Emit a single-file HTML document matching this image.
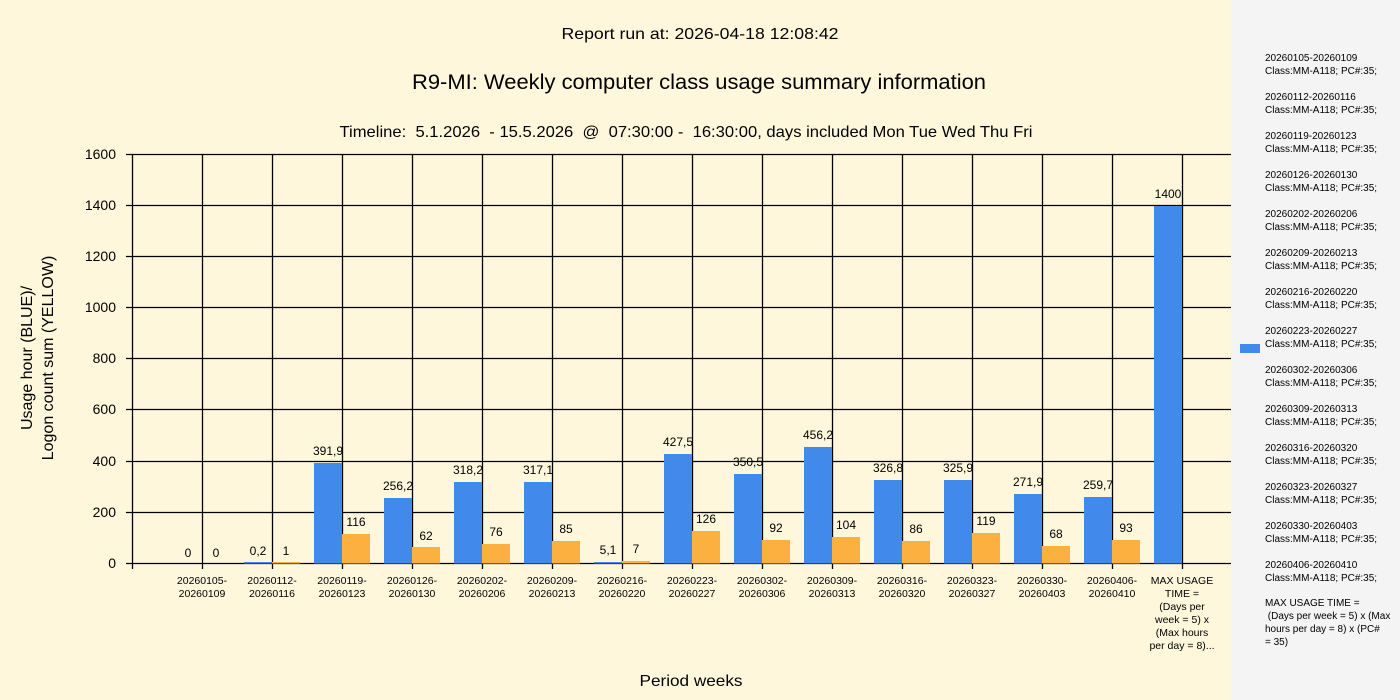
<!DOCTYPE html>
<html><head><meta charset="utf-8"><style>
body{margin:0;background:#fff7dc;}
svg{display:block;font-family:"Liberation Sans",sans-serif;}
</style></head><body>
<svg width="1400" height="700" xmlns="http://www.w3.org/2000/svg">
<rect width="1400" height="700" fill="#fff7dc"/>
<rect x="1231" y="0" width="169" height="700" fill="#f4f4f4"/>
<text x="700" y="39" font-size="16" text-anchor="middle" textLength="277" lengthAdjust="spacingAndGlyphs">Report run at: 2026-04-18 12:08:42</text>
<text x="699" y="89" font-size="21" text-anchor="middle" textLength="574" lengthAdjust="spacingAndGlyphs">R9-MI: Weekly computer class usage summary information</text>
<text x="686" y="137" font-size="16" text-anchor="middle" xml:space="preserve" textLength="693" lengthAdjust="spacingAndGlyphs">Timeline:  5.1.2026  - 15.5.2026  @  07:30:00 -  16:30:00, days included Mon Tue Wed Thu Fri</text>
<g stroke="#000" stroke-width="1.3">
<line x1="126" y1="154.5" x2="1231" y2="154.5"/><line x1="126" y1="205.5" x2="1231" y2="205.5"/>
<line x1="126" y1="256.5" x2="1231" y2="256.5"/><line x1="126" y1="307.5" x2="1231" y2="307.5"/>
<line x1="126" y1="358.5" x2="1231" y2="358.5"/><line x1="126" y1="409.5" x2="1231" y2="409.5"/>
<line x1="126" y1="461.5" x2="1231" y2="461.5"/><line x1="126" y1="512.5" x2="1231" y2="512.5"/>
<line x1="126" y1="563.5" x2="1231" y2="563.5"/>
<line x1="132.5" y1="154" x2="132.5" y2="569"/>
<line x1="202.5" y1="154" x2="202.5" y2="569"/><line x1="272.5" y1="154" x2="272.5" y2="569"/>
<line x1="342.5" y1="154" x2="342.5" y2="569"/><line x1="412.5" y1="154" x2="412.5" y2="569"/>
<line x1="482.5" y1="154" x2="482.5" y2="569"/><line x1="552.5" y1="154" x2="552.5" y2="569"/>
<line x1="622.5" y1="154" x2="622.5" y2="569"/><line x1="692.5" y1="154" x2="692.5" y2="569"/>
<line x1="762.5" y1="154" x2="762.5" y2="569"/><line x1="832.5" y1="154" x2="832.5" y2="569"/>
<line x1="902.5" y1="154" x2="902.5" y2="569"/><line x1="972.5" y1="154" x2="972.5" y2="569"/>
<line x1="1042.5" y1="154" x2="1042.5" y2="569"/><line x1="1112.5" y1="154" x2="1112.5" y2="569"/>
<line x1="1182.5" y1="154" x2="1182.5" y2="569"/>
</g>
<g font-size="14" text-anchor="end">
<text x="116" y="159">1600</text><text x="116" y="210">1400</text><text x="116" y="261">1200</text>
<text x="116" y="312">1000</text><text x="116" y="363">800</text><text x="116" y="414">600</text>
<text x="116" y="466">400</text><text x="116" y="517">200</text><text x="116" y="568">0</text>
</g>
<text transform="translate(32,358) rotate(-90)" font-size="16" text-anchor="middle">Usage hour (BLUE)/</text>
<text transform="translate(53,358) rotate(-90)" font-size="16" text-anchor="middle">Logon count sum (YELLOW)</text>
<text x="691" y="686" font-size="16" text-anchor="middle" textLength="103" lengthAdjust="spacingAndGlyphs">Period weeks</text>
<g fill="#418aeb">
<rect x="244" y="562" width="28" height="1.5"/>
<rect x="314" y="463" width="28" height="100.5"/>
<rect x="384" y="498" width="28" height="65.5"/>
<rect x="454" y="482" width="28" height="81.5"/>
<rect x="524" y="482" width="28" height="81.5"/>
<rect x="594" y="562" width="28" height="1.5"/>
<rect x="664" y="454" width="28" height="109.5"/>
<rect x="734" y="474" width="28" height="89.5"/>
<rect x="804" y="447" width="28" height="116.5"/>
<rect x="874" y="480" width="28" height="83.5"/>
<rect x="944" y="480" width="28" height="83.5"/>
<rect x="1014" y="494" width="28" height="69.5"/>
<rect x="1084" y="497" width="28" height="66.5"/>
<rect x="1154" y="206" width="28" height="357.5"/>
</g>
<g fill="#fbb040">
<rect x="272" y="562" width="28" height="1.5"/>
<rect x="342" y="534" width="28" height="29.5"/>
<rect x="412" y="547" width="28" height="16.5"/>
<rect x="482" y="544" width="28" height="19.5"/>
<rect x="552" y="541" width="28" height="22.5"/>
<rect x="622" y="561" width="28" height="2.5"/>
<rect x="692" y="531" width="28" height="32.5"/>
<rect x="762" y="540" width="28" height="23.5"/>
<rect x="832" y="537" width="28" height="26.5"/>
<rect x="902" y="541" width="28" height="22.5"/>
<rect x="972" y="533" width="28" height="30.5"/>
<rect x="1042" y="546" width="28" height="17.5"/>
<rect x="1112" y="540" width="28" height="23.5"/>
</g>
<g font-size="12" text-anchor="middle">
<text x="188" y="557">0</text><text x="216" y="557">0</text>
<text x="258" y="555">0,2</text><text x="286" y="555">1</text>
<text x="328" y="455">391,9</text><text x="356" y="526">116</text>
<text x="398" y="490">256,2</text><text x="426" y="540">62</text>
<text x="468" y="474">318,2</text><text x="496" y="536">76</text>
<text x="538" y="474">317,1</text><text x="566" y="533">85</text>
<text x="608" y="554">5,1</text><text x="636" y="553">7</text>
<text x="678" y="446">427,5</text><text x="706" y="523">126</text>
<text x="748" y="466">350,5</text><text x="776" y="532">92</text>
<text x="818" y="439">456,2</text><text x="846" y="529">104</text>
<text x="888" y="472">326,8</text><text x="916" y="533">86</text>
<text x="958" y="472">325,9</text><text x="986" y="525">119</text>
<text x="1028" y="486">271,9</text><text x="1056" y="538">68</text>
<text x="1098" y="489">259,7</text><text x="1126" y="532">93</text>
<text x="1168" y="198">1400</text>
</g>
<g font-size="10.5" text-anchor="middle">
<text x="202" y="584">20260105-</text><text x="202" y="597">20260109</text>
<text x="272" y="584">20260112-</text><text x="272" y="597">20260116</text>
<text x="342" y="584">20260119-</text><text x="342" y="597">20260123</text>
<text x="412" y="584">20260126-</text><text x="412" y="597">20260130</text>
<text x="482" y="584">20260202-</text><text x="482" y="597">20260206</text>
<text x="552" y="584">20260209-</text><text x="552" y="597">20260213</text>
<text x="622" y="584">20260216-</text><text x="622" y="597">20260220</text>
<text x="692" y="584">20260223-</text><text x="692" y="597">20260227</text>
<text x="762" y="584">20260302-</text><text x="762" y="597">20260306</text>
<text x="832" y="584">20260309-</text><text x="832" y="597">20260313</text>
<text x="902" y="584">20260316-</text><text x="902" y="597">20260320</text>
<text x="972" y="584">20260323-</text><text x="972" y="597">20260327</text>
<text x="1042" y="584">20260330-</text><text x="1042" y="597">20260403</text>
<text x="1112" y="584">20260406-</text><text x="1112" y="597">20260410</text>
<text x="1182" y="584">MAX USAGE</text><text x="1182" y="597">TIME =</text>
<text x="1182" y="610">(Days per</text><text x="1182" y="623">week = 5) x</text>
<text x="1182" y="636">(Max hours</text><text x="1182" y="649">per day = 8)...</text>
</g>
<rect x="1240" y="344" width="20" height="9" fill="#418aeb"/>
<g font-size="10">
<text x="1265" y="61">20260105-20260109</text><text x="1265" y="74">Class:MM-A118; PC#:35;</text>
<text x="1265" y="100">20260112-20260116</text><text x="1265" y="113">Class:MM-A118; PC#:35;</text>
<text x="1265" y="139">20260119-20260123</text><text x="1265" y="152">Class:MM-A118; PC#:35;</text>
<text x="1265" y="178">20260126-20260130</text><text x="1265" y="191">Class:MM-A118; PC#:35;</text>
<text x="1265" y="217">20260202-20260206</text><text x="1265" y="230">Class:MM-A118; PC#:35;</text>
<text x="1265" y="256">20260209-20260213</text><text x="1265" y="269">Class:MM-A118; PC#:35;</text>
<text x="1265" y="295">20260216-20260220</text><text x="1265" y="308">Class:MM-A118; PC#:35;</text>
<text x="1265" y="334">20260223-20260227</text><text x="1265" y="347">Class:MM-A118; PC#:35;</text>
<text x="1265" y="373">20260302-20260306</text><text x="1265" y="386">Class:MM-A118; PC#:35;</text>
<text x="1265" y="412">20260309-20260313</text><text x="1265" y="425">Class:MM-A118; PC#:35;</text>
<text x="1265" y="451">20260316-20260320</text><text x="1265" y="464">Class:MM-A118; PC#:35;</text>
<text x="1265" y="490">20260323-20260327</text><text x="1265" y="503">Class:MM-A118; PC#:35;</text>
<text x="1265" y="529">20260330-20260403</text><text x="1265" y="542">Class:MM-A118; PC#:35;</text>
<text x="1265" y="568">20260406-20260410</text><text x="1265" y="581">Class:MM-A118; PC#:35;</text>
<text x="1265" y="606">MAX USAGE TIME =</text>
<text x="1265" y="619" xml:space="preserve"> (Days per week = 5) x (Max</text>
<text x="1265" y="632">hours per day = 8) x (PC#</text>
<text x="1265" y="645">= 35)</text>
</g>
</svg>
</body></html>
